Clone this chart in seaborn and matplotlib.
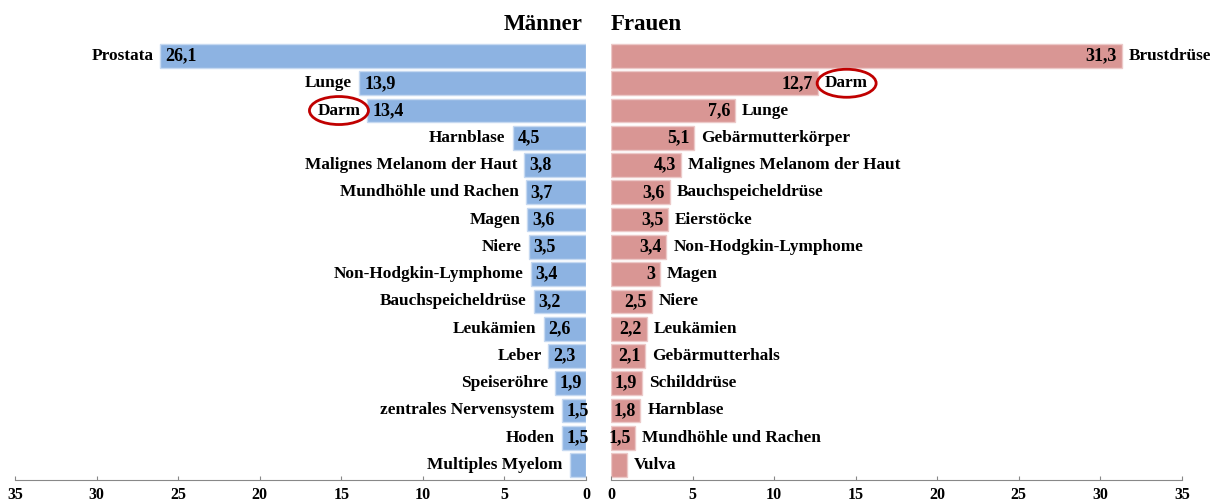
import numpy as np
import pandas as pd
import matplotlib
matplotlib.use("Agg")
import matplotlib.pyplot as plt
import seaborn as sns
from matplotlib.patches import Ellipse

# data (percent of new cancer cases)
men_sites = ["Prostata", "Lunge", "Darm", "Harnblase", "Malignes Melanom der Haut",
             "Mundhöhle und Rachen", "Magen", "Niere", "Non-Hodgkin-Lymphome",
             "Bauchspeicheldrüse", "Leukämien", "Leber", "Speiseröhre",
             "zentrales Nervensystem", "Hoden", "Multiples Myelom"]
men_values = [26.1, 13.9, 13.4, 4.5, 3.8, 3.7, 3.6, 3.5, 3.4, 3.2, 2.6, 2.3, 1.9, 1.5, 1.5, 1.0]

women_sites = ["Brustdrüse", "Darm", "Lunge", "Gebärmutterkörper", "Malignes Melanom der Haut",
               "Bauchspeicheldrüse", "Eierstöcke", "Non-Hodgkin-Lymphome", "Magen", "Niere",
               "Leukämien", "Gebärmutterhals", "Schilddrüse", "Harnblase",
               "Mundhöhle und Rachen", "Vulva"]
women_values = [31.3, 12.7, 7.6, 5.1, 4.3, 3.6, 3.5, 3.4, 3.0, 2.5, 2.2, 2.1, 1.9, 1.8, 1.5, 1.0]

# last rows carry no value label in the original
men_show = [True] * 15 + [False]
women_show = [True] * 15 + [False]

highlight = "Darm"

men_df = pd.DataFrame({"site": men_sites, "value": men_values})
women_df = pd.DataFrame({"site": women_sites, "value": women_values})

plt.rcParams["font.family"] = ["Liberation Serif", "DejaVu Serif"]
plt.rcParams["font.weight"] = "bold"
plt.rcParams["xtick.labelsize"] = 11.5

blue = "#8db3e2"
red = "#d99694"
W, H = 1215, 501

fig = plt.figure(figsize=(W / 100, H / 100), dpi=100)
axL = fig.add_axes([15 / W, 21 / H, 571 / W, 439 / H])
axR = fig.add_axes([611 / W, 21 / H, 571 / W, 439 / H])

sns.barplot(data=men_df, x="value", y="site", orient="h", color=blue, saturation=1,
            width=0.87, edgecolor="#c6d9f1", linewidth=1, ax=axL)
sns.barplot(data=women_df, x="value", y="site", orient="h", color=red, saturation=1,
            width=0.87, edgecolor="#ecc9c8", linewidth=1, ax=axR)

def fmt(v):
    return f"{v:g}".replace(".", ",")

hl_texts = []
for ax, sites, vals, show, side in [(axL, men_sites, men_values, men_show, -1),
                                     (axR, women_sites, women_values, women_show, 1)]:
    for i, (s, v, sh) in enumerate(zip(sites, vals, show)):
        if sh:
            ax.annotate(fmt(v), (v, i), xytext=(-side * 3.5, 0), textcoords="offset points",
                        ha="right" if side == 1 else "left", va="center",
                        fontsize=13, fontweight="bold")
        t = ax.annotate(s, (v, i), xytext=(side * 5, 0), textcoords="offset points",
                        ha="left" if side == 1 else "right", va="center",
                        fontsize=12.4, fontweight="bold")
        if s == highlight:
            hl_texts.append(t)

for ax in (axL, axR):
    ax.set_ylim(15.55, -0.55)
    ax.set_yticks([])
    ax.set_ylabel("")
    ax.set_xlabel("")
    ax.set_xticks(np.arange(0, 36, 5))
    ax.tick_params(axis="x", direction="in", length=3, color="#888888", labelsize=11.5, pad=5)
    for lab in ax.get_xticklabels():
        lab.set_fontweight("bold")
        lab.set_fontsize(11.5)
    for sp in ["top", "left", "right"]:
        ax.spines[sp].set_visible(False)
    ax.spines["bottom"].set_color("#888888")
    ax.patch.set_visible(False)

axL.set_xlim(35, 0)
axR.set_xlim(0, 35)

fig.text(583 / W, 1 - 24 / H, "Männer", ha="right", va="center", fontsize=16.5, fontweight="bold")
fig.text(611 / W, 1 - 24 / H, "Frauen", ha="left", va="center", fontsize=16.5, fontweight="bold")

# red circles around the highlighted site
fig.canvas.draw()
r = fig.canvas.get_renderer()
for t in hl_texts:
    bb = t.get_window_extent(r)
    cx, cy = (bb.x0 + bb.x1) / 2, (bb.y0 + bb.y1) / 2
    e = Ellipse((cx / W, cy / H), (bb.width + 16) / W, (bb.height + 12) / H,
                transform=fig.transFigure, fill=False, edgecolor="#c00000", linewidth=2)
    fig.patches.append(e)

fig.savefig("out.png", dpi=100)
